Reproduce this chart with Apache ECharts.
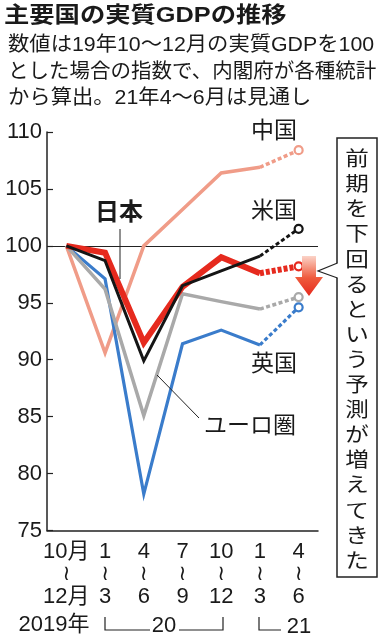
<!DOCTYPE html>
<html><head><meta charset="utf-8">
<script src="https://cdn.jsdelivr.net/npm/echarts@6/dist/echarts.min.js"></script>
<style>html,body{margin:0;padding:0;background:#fff}#c{width:387px;height:640px}</style>
</head><body><div id="c"></div>
<script>
// ---- data ----
const categories = ['2019Q4','2020Q1','2020Q2','2020Q3','2020Q4','2021Q1','2021Q2'];
const quarterStart = ['10月','1','4','7','10','1','4'];
const quarterEnd = ['12月','3','6','9','12','3','6'];
const china = [100, 90.6, 100.0, 103.2, 106.4, 106.9, 108.4];
const uk    = [100, 97.1, 78.2, 91.4, 92.6, 91.3, 94.6];
const euro  = [100, 96.2, 85.1, 95.8, 95.1, 94.45, 95.5];
const japan = [100, 99.4, 91.5, 96.4, 99.0, 97.6, 98.2];
const us    = [100, 98.7, 89.9, 96.5, 97.8, 99.1, 101.5];
const yTicks = [75, 80, 85, 90, 95, 100, 105, 110];
const title = '主要国の実質GDPの推移';
const subtitle = ['数値は19年10〜12月の実質GDPを100','とした場合の指数で、内閣府が各種統計','から算出。21年4〜6月は見通し'];
const callout = '前期を下回るという予測が増えてきた';

const LAT = "'Liberation Sans','Noto Sans CJK JP',sans-serif";
const JP = "'Liberation Sans','Noto Sans CJK JP',sans-serif";

function solidPart(arr){ return arr.map((v,i)=> i <= 5 ? v : '-'); }
function dashPart(arr, color){
  return arr.map((v,i)=>{
    if (i < 5) return '-';
    if (i === 6) return {value: v, symbol:'circle', symbolSize: 8, itemStyle:{color:'#fff', borderColor: color, borderWidth: 2.2, opacity:1}};
    return {value: v, symbol:'none'};
  });
}
function makeSeries(name, arr, color, width, dash, z){
  return [
    {name, type:'line', data: solidPart(arr), symbol:'none', z,
      lineStyle:{color, width, join:'miter', cap:'butt'}, itemStyle:{color}, animation:false},
    {name: name+'見通し', type:'line', data: dashPart(arr, color), symbol:'circle', showSymbol:true, symbolSize:8, z: z+10,
      lineStyle:{color, width, type: dash, cap:'butt'}, itemStyle:{color:'#fff', borderColor:color, borderWidth:2.2}, animation:false}
  ];
}

const series = [].concat(
  makeSeries('中国', china, '#f09c88', 3.5, [4,2.5], 2),
  makeSeries('英国', uk, '#3a7ccb', 3.2, [4,2.5], 3),
  makeSeries('ユーロ圏', euro, '#a9a9a9', 3.5, [4,2.5], 4),
  makeSeries('日本', japan, '#e62a1e', 6, [4,2], 5),
  makeSeries('米国', us, '#151515', 3, [4,2.5], 6)
);
series[0].markLine = {silent:true, symbol:'none', label:{show:false},
  lineStyle:{color:'#222', width:1, type:'solid'}, data:[{yAxis:100}], z:1};

function t(text, x, y, size, opt){
  opt = opt || {};
  return {type:'text', x, y, scaleX: opt.scaleX || 1, z: 50,
    style:{text, fontSize:size, fontFamily: opt.family || JP, fontWeight: opt.bold ? 'bold':'normal',
      fill: opt.fill || '#1a1a1a', textAlign: opt.align || 'left', textVerticalAlign:'middle',
      lineHeight: opt.lh || size}};
}

const graphics = [
  t(title, 4, 16, 22, {bold:true, scaleX:1.15}),
  t(subtitle[0], 8, 45, 20.5, {scaleX:1.04}),
  t(subtitle[1], 8, 72, 20.5, {scaleX:1.0}),
  t(subtitle[2], 8, 98, 20.5, {scaleX:1.04}),
  t('中国', 274, 132, 23, {align:'center'}),
  t('米国', 274, 212, 23, {align:'center'}),
  t('英国', 274, 365, 23, {align:'center'}),
  t('ユーロ圏', 250, 427, 23, {align:'center'}),
  t('日本', 119, 213, 24, {bold:true, align:'center'}),
  {type:'line', z:50, shape:{x1:120, y1:229, x2:120, y2:279}, style:{stroke:'#222', lineWidth:1}},
  {type:'line', z:50, shape:{x1:157, y1:375, x2:199, y2:418}, style:{stroke:'#222', lineWidth:1}},
  // callout box
  {type:'rect', z:40, shape:{x:337, y:138, width:40, height:439}, style:{fill:'#fff', stroke:'#222', lineWidth:1.5}},
  {type:'polygon', z:41, shape:{points:[[338,263],[318,271],[338,278]]}, style:{fill:'#fff'}},
  {type:'polyline', z:42, shape:{points:[[337.5,263],[318,271],[337.5,278]]}, style:{stroke:'#222', lineWidth:1.2, fill:null}},
  {type:'text', x:357, y:146, scaleX:1.18, z:50, style:{text: callout.split('').join('\n'), fontSize:20,
     fontFamily:"'Noto Sans CJK JP',sans-serif", lineHeight:25.1, fill:'#1a1a1a', textAlign:'center', textVerticalAlign:'top'}},
  // red arrow
  {type:'polygon', z:45, shape:{points:[[302,256],[316,256],[316,277],[323,277],[309,296],[295,277],[302,277]]},
    style:{fill:{type:'linear', x:0, y:0, x2:0, y2:1, colorStops:[{offset:0,color:'#fbd3c8'},{offset:0.55,color:'#ef5a3c'},{offset:1,color:'#e62a1e'}]}}},
  // bottom year row
  t('2019年', 54, 625, 22, {align:'center', family: LAT}),
  {type:'polyline', z:50, shape:{points:[[105,617],[105,630],[150,630]]}, style:{stroke:'#222', lineWidth:1.2, fill:null}},
  t('20', 164, 626, 22, {align:'center', family: LAT}),
  {type:'polyline', z:50, shape:{points:[[179,630],[223,630],[223,617]]}, style:{stroke:'#222', lineWidth:1.2, fill:null}},
  {type:'polyline', z:50, shape:{points:[[259,617],[259,630],[281,630]]}, style:{stroke:'#222', lineWidth:1.2, fill:null}},
  t('21', 299, 627, 22, {align:'center', family: LAT})
];

const chart = echarts.init(document.getElementById('c'), null, {renderer:'canvas'});
chart.setOption({
  animation:false,
  backgroundColor:'#fff',
  grid:{left:47, top:132, width:271, height:398.5, containLabel:false},
  xAxis:{type:'category', data: categories, boundaryGap:true,
    axisLine:{lineStyle:{color:'#222', width:1.5}},
    axisTick:{inside:true, length:8, alignWithLabel:true, lineStyle:{color:'#222', width:1.2}},
    splitLine:{show:false},
    axisLabel:{interval:0, margin:10, color:'#1a1a1a', lineHeight:22.5,
      formatter:(v, i)=> '{d|'+quarterStart[i]+'}\n{w|≀}\n{d|'+quarterEnd[i]+'}',
      rich:{d:{fontSize:22, fontFamily:LAT, lineHeight:22.5, color:'#1a1a1a'},
            w:{fontSize:21, fontFamily:"'DejaVu Sans',sans-serif", lineHeight:22.5, color:'#1a1a1a'}}}
  },
  yAxis:{type:'value', min:75, max:110, interval:5,
    axisLine:{show:true, lineStyle:{color:'#222', width:1.5}},
    axisTick:{show:true, inside:true, length:6, lineStyle:{color:'#222', width:1.2}},
    splitLine:{show:false},
    axisLabel:{margin:5, fontSize:22, fontFamily:LAT, color:'#1a1a1a',
      formatter:(v)=> yTicks.indexOf(v) >= 0 ? String(v) : ''}
  },
  series,
  graphic: graphics
});
</script></body></html>
